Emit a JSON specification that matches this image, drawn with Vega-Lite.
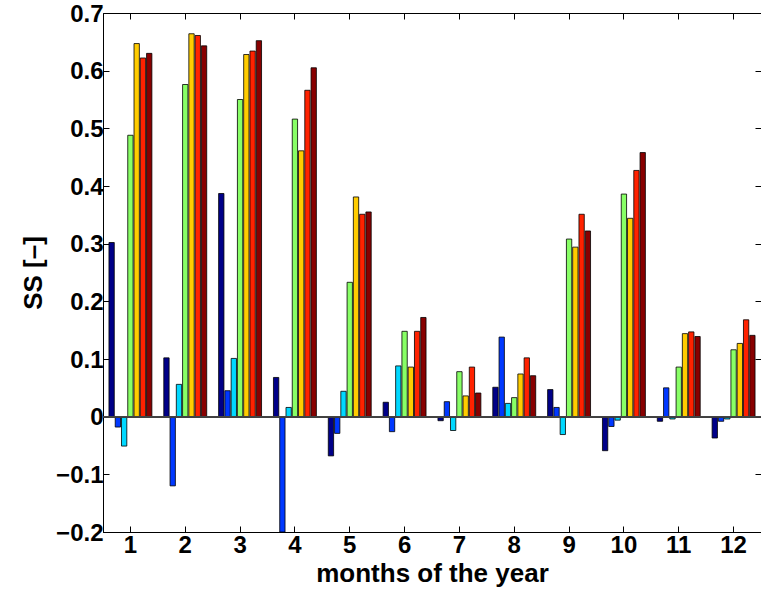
{
  "$schema": "https://vega.github.io/schema/vega-lite/v6.json",
  "width": 658,
  "height": 519,
  "autosize": {"type": "none"},
  "padding": {"left": 103, "top": 13, "right": 0, "bottom": 64},
  "config": {
    "view": {"stroke": "#000", "strokeWidth": 1},
    "axis": {
      "labelFont": "Liberation Sans",
      "labelFontWeight": "bold",
      "labelFontSize": 24,
      "labelColor": "#000",
      "titleFont": "Liberation Sans",
      "titleFontWeight": "bold",
      "titleFontSize": 26,
      "titleColor": "#000",
      "grid": false,
      "domainColor": "#000",
      "tickColor": "#000",
      "tickSize": -6,
      "labelPadding": 6
    }
  },
  "data": {
    "values": [
      {"month": 1, "s": "a", "v": 0.302}, {"month": 1, "s": "b", "v": -0.018}, {"month": 1, "s": "c", "v": -0.051}, {"month": 1, "s": "d", "v": 0.488}, {"month": 1, "s": "e", "v": 0.647}, {"month": 1, "s": "f", "v": 0.622}, {"month": 1, "s": "g", "v": 0.630},
      {"month": 2, "s": "a", "v": 0.102}, {"month": 2, "s": "b", "v": -0.120}, {"month": 2, "s": "c", "v": 0.056}, {"month": 2, "s": "d", "v": 0.576}, {"month": 2, "s": "e", "v": 0.664}, {"month": 2, "s": "f", "v": 0.661}, {"month": 2, "s": "g", "v": 0.643},
      {"month": 3, "s": "a", "v": 0.387}, {"month": 3, "s": "b", "v": 0.045}, {"month": 3, "s": "c", "v": 0.101}, {"month": 3, "s": "d", "v": 0.550}, {"month": 3, "s": "e", "v": 0.628}, {"month": 3, "s": "f", "v": 0.634}, {"month": 3, "s": "g", "v": 0.652},
      {"month": 4, "s": "a", "v": 0.068}, {"month": 4, "s": "b", "v": -0.2}, {"month": 4, "s": "c", "v": 0.016}, {"month": 4, "s": "d", "v": 0.516}, {"month": 4, "s": "e", "v": 0.461}, {"month": 4, "s": "f", "v": 0.566}, {"month": 4, "s": "g", "v": 0.605},
      {"month": 5, "s": "a", "v": -0.068}, {"month": 5, "s": "b", "v": -0.029}, {"month": 5, "s": "c", "v": 0.044}, {"month": 5, "s": "d", "v": 0.233}, {"month": 5, "s": "e", "v": 0.381}, {"month": 5, "s": "f", "v": 0.351}, {"month": 5, "s": "g", "v": 0.355},
      {"month": 6, "s": "a", "v": 0.025}, {"month": 6, "s": "b", "v": -0.026}, {"month": 6, "s": "c", "v": 0.088}, {"month": 6, "s": "d", "v": 0.148}, {"month": 6, "s": "e", "v": 0.086}, {"month": 6, "s": "f", "v": 0.148}, {"month": 6, "s": "g", "v": 0.172},
      {"month": 7, "s": "a", "v": -0.007}, {"month": 7, "s": "b", "v": 0.026}, {"month": 7, "s": "c", "v": -0.024}, {"month": 7, "s": "d", "v": 0.078}, {"month": 7, "s": "e", "v": 0.036}, {"month": 7, "s": "f", "v": 0.086}, {"month": 7, "s": "g", "v": 0.041},
      {"month": 8, "s": "a", "v": 0.051}, {"month": 8, "s": "b", "v": 0.138}, {"month": 8, "s": "c", "v": 0.023}, {"month": 8, "s": "d", "v": 0.033}, {"month": 8, "s": "e", "v": 0.074}, {"month": 8, "s": "f", "v": 0.102}, {"month": 8, "s": "g", "v": 0.071},
      {"month": 9, "s": "a", "v": 0.047}, {"month": 9, "s": "b", "v": 0.016}, {"month": 9, "s": "c", "v": -0.031}, {"month": 9, "s": "d", "v": 0.308}, {"month": 9, "s": "e", "v": 0.294}, {"month": 9, "s": "f", "v": 0.351}, {"month": 9, "s": "g", "v": 0.322},
      {"month": 10, "s": "a", "v": -0.059}, {"month": 10, "s": "b", "v": -0.017}, {"month": 10, "s": "c", "v": -0.006}, {"month": 10, "s": "d", "v": 0.386}, {"month": 10, "s": "e", "v": 0.344}, {"month": 10, "s": "f", "v": 0.427}, {"month": 10, "s": "g", "v": 0.458},
      {"month": 11, "s": "a", "v": -0.008}, {"month": 11, "s": "b", "v": 0.050}, {"month": 11, "s": "c", "v": -0.004}, {"month": 11, "s": "d", "v": 0.086}, {"month": 11, "s": "e", "v": 0.144}, {"month": 11, "s": "f", "v": 0.147}, {"month": 11, "s": "g", "v": 0.139},
      {"month": 12, "s": "a", "v": -0.037}, {"month": 12, "s": "b", "v": -0.008}, {"month": 12, "s": "c", "v": -0.004}, {"month": 12, "s": "d", "v": 0.116}, {"month": 12, "s": "e", "v": 0.127}, {"month": 12, "s": "f", "v": 0.168}, {"month": 12, "s": "g", "v": 0.141}
    ]
  },
  "layer": [
    {
      "mark": {"type": "bar", "stroke": "#000", "strokeWidth": 0.8, "clip": true},
      "encoding": {
        "x": {
          "field": "month", "type": "ordinal",
          "scale": {"paddingInner": 0, "paddingOuter": 0},
          "axis": {"orient": "bottom", "labelAngle": 0, "labelPadding": 7, "title": "months of the year", "titlePadding": 3}
        },
        "xOffset": {"field": "s", "type": "nominal", "scale": {"paddingInner": 0.15, "paddingOuter": 0.95}},
        "y": {
          "field": "v", "type": "quantitative",
          "scale": {"domain": [-0.2, 0.7], "nice": false},
          "axis": {
            "orient": "left",
            "values": [-0.2, -0.1, 0, 0.1, 0.2, 0.3, 0.4, 0.5, 0.6, 0.7],
            "labelExpr": "datum.value == 0 ? '0' : replace(format(datum.value, '.1f'), '-', '–')",
            "labelOffset": 1,
            "title": "SS [–]",
            "titlePadding": 9
          }
        },
        "color": {
          "field": "s", "type": "nominal",
          "scale": {"domain": ["a", "b", "c", "d", "e", "f", "g"], "range": ["#000088", "#0038ff", "#00d8ff", "#88ff66", "#ffcc00", "#ff2200", "#880000"]},
          "legend": null
        }
      }
    },
    {
      "mark": {"type": "rule", "color": "#444", "strokeWidth": 1},
      "encoding": {"y": {"datum": 0, "axis": null}}
    },
    {
      "mark": {"type": "tick", "opacity": 0},
      "encoding": {
        "x": {"field": "month", "type": "ordinal", "axis": {"orient": "top", "labels": false, "title": null, "domain": false}},
        "y": {"field": "v", "type": "quantitative", "axis": {"orient": "right", "labels": false, "title": null, "domain": false, "values": [-0.2, -0.1, 0, 0.1, 0.2, 0.3, 0.4, 0.5, 0.6, 0.7]}}
      }
    }
  ],
  "resolve": {"axis": {"x": "independent", "y": "independent"}}
}
